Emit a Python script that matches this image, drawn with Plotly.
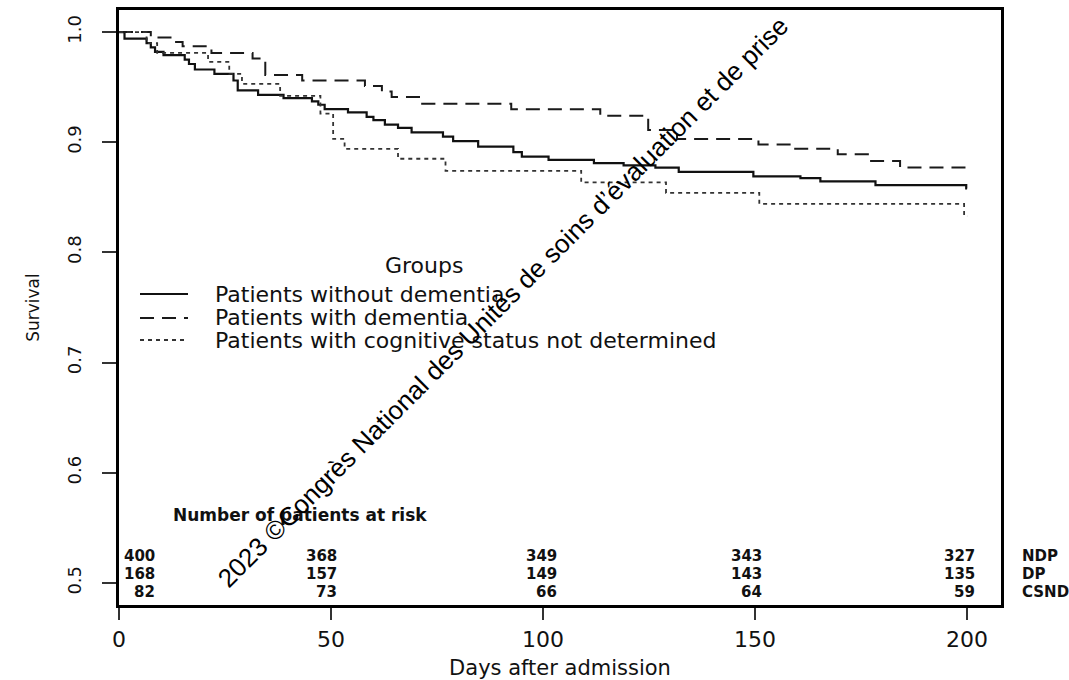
import plotly.graph_objects as go

# ---------------- data ----------------
group_names = ["Patients without dementia", "Patients with dementia",
               "Patients with cognitive status not determined"]
row_labels = ["NDP", "DP", "CSND"]

ndp_t = [0, 1.3, 6.5, 7.5, 8.5, 10.5, 15.5, 16.5, 17.9, 22.5, 27, 28, 32.8, 38.8, 45.5, 47, 48.5,
         54, 58.4, 60, 62.7, 65.8, 69, 76.4, 78.8, 84.7, 93, 95, 101.3, 112, 119, 126.5, 132,
         149.6, 160.7, 165.4, 178.4, 199.8, 200]
ndp_s = [1.0, 0.994, 0.990, 0.986, 0.982, 0.979, 0.975, 0.971, 0.966, 0.962, 0.956, 0.947, 0.943,
         0.940, 0.937, 0.934, 0.930, 0.927, 0.923, 0.920, 0.916, 0.913, 0.909, 0.905, 0.901, 0.896,
         0.891, 0.887, 0.884, 0.881, 0.879, 0.877, 0.873, 0.869, 0.8675, 0.8645, 0.861, 0.858, 0.858]

dp_t = [0, 7.5, 12.5, 15, 21.8, 31.5, 34.5, 43.2, 58, 62, 64.3, 71.5, 92.5, 113.5, 124.8, 131.6,
        150.8, 158.5, 169.5, 176.6, 184.2, 200]
dp_s = [1.0, 0.995, 0.991, 0.987, 0.981, 0.976, 0.961, 0.956, 0.951, 0.946, 0.941, 0.935, 0.930,
        0.924, 0.911, 0.903, 0.898, 0.894, 0.889, 0.883, 0.877, 0.877]

csnd_t = [0, 6.5, 9, 21, 26, 29, 38, 47.5, 50.5, 53.2, 65.8, 77, 109, 129, 151, 199.3, 200]
csnd_s = [1.0, 0.990, 0.981, 0.973, 0.962, 0.953, 0.942, 0.926, 0.903, 0.894, 0.885, 0.874,
          0.8635, 0.854, 0.844, 0.833, 0.833]

risk_times = [0, 50, 100, 150, 200]
ndp_risk = [400, 368, 349, 343, 327]
dp_risk = [168, 157, 149, 143, 135]
csnd_risk = [82, 73, 66, 64, 59]

x_ticks = [0, 50, 100, 150, 200]
y_ticks = [0.5, 0.6, 0.7, 0.8, 0.9, 1.0]

watermark = "2023 \u00a9Congr\u00e8s National des Unit\u00e9s de soins d\u2019\u00e9valuation et de prise"

# ---------------- layout helpers ----------------
W, H = 1069, 680
ML, MR, MT, MB = 119, 68, 10, 75
PW, PH = W - ML - MR, H - MT - MB


def px(x):
    return (x - ML) / PW


def py(y):
    return (H - MB - y) / PH


FONT = "DejaVu Sans"
styles = [dict(color="#111111", width=2.2, dash="solid"),
          dict(color="#1a1a1a", width=2.0, dash="14px,8px"),
          dict(color="#333333", width=1.8, dash="4px,4px")]

fig = go.Figure()
for t, s, name, st in zip([ndp_t, dp_t, csnd_t], [ndp_s, dp_s, csnd_s], group_names, styles):
    fig.add_trace(go.Scatter(x=t, y=s, mode="lines", name=name, showlegend=False,
                             line=dict(shape="hv", **st)))

annotations = []
shapes = []

# legend (drawn by hand to match the R-style legend)
legend_rows_y = [294, 318, 340]
annotations.append(dict(text="Groups", x=px(424), y=py(265), xref="paper", yref="paper",
                        xanchor="center", yanchor="middle", showarrow=False,
                        font=dict(family=FONT, size=22, color="#111")))
for name, st, ly in zip(group_names, styles, legend_rows_y):
    shapes.append(dict(type="line", xref="paper", yref="paper", x0=px(140), x1=px(188),
                       y0=py(ly), y1=py(ly), line=st))
    annotations.append(dict(text=name, x=px(213), y=py(ly), xref="paper", yref="paper",
                            xanchor="left", yanchor="middle", showarrow=False,
                            font=dict(family=FONT, size=22, color="#111")))

# number at risk table
annotations.append(dict(text="Number of patients at risk", x=px(300), y=py(515), xref="paper",
                        yref="paper", xanchor="center", yanchor="middle", showarrow=False,
                        font=dict(family=FONT, size=17, color="#111", weight="bold")))
row_y = [556, 574, 592]
col_shift = [38, 8, 16, 9, 10]
for vals, lab, ry in zip([ndp_risk, dp_risk, csnd_risk], row_labels, row_y):
    for tx, v, sh in zip(risk_times, vals, col_shift):
        annotations.append(dict(text=str(v), x=tx, xref="x", y=py(ry), yref="paper",
                                xanchor="right", yanchor="middle", xshift=sh, showarrow=False,
                                font=dict(family=FONT, size=15, color="#111", weight="bold")))
    annotations.append(dict(text=lab, x=px(1020), y=py(ry), xref="paper", yref="paper",
                            xanchor="left", yanchor="middle", showarrow=False,
                            font=dict(family=FONT, size=15, color="#111", weight="bold")))

# copyright watermark
annotations.append(dict(text=watermark, x=px(503), y=py(302), xref="paper", yref="paper",
                        xanchor="center", yanchor="middle", textangle=-45, showarrow=False,
                        font=dict(family="Liberation Sans", size=26, color="#000")))

fig.update_layout(
    width=W, height=H,
    margin=dict(l=ML, r=MR, t=MT, b=MB, pad=0),
    paper_bgcolor="white", plot_bgcolor="white",
    font=dict(family=FONT, color="#111"),
    showlegend=False,
    annotations=annotations, shapes=shapes,
    xaxis=dict(range=[0, 208], tickvals=x_ticks, showgrid=False, zeroline=False,
               showline=True, linewidth=3, linecolor="black", mirror=True,
               ticks="outside", ticklen=12, tickwidth=1.5, tickcolor="#333",
               tickfont=dict(family=FONT, size=22, color="#111"), ticklabelstandoff=1,
               automargin=False,
               title=dict(text="Days after admission", font=dict(family=FONT, size=21, color="#111"),
                          standoff=14)),
    yaxis=dict(range=[0.48, 1.02], tickvals=y_ticks, tickformat=".1f", tickangle=-90,
               showgrid=False, zeroline=False,
               showline=True, linewidth=3, linecolor="black", mirror=True,
               ticks="outside", ticklen=14, tickwidth=1.5, tickcolor="#333",
               tickfont=dict(family=FONT, size=18, color="#111"), ticklabelstandoff=14,
               automargin=False,
               title=dict(text="Survival", font=dict(family=FONT, size=17, color="#111"),
                          standoff=20)),
)

fig.write_html("out.html")
